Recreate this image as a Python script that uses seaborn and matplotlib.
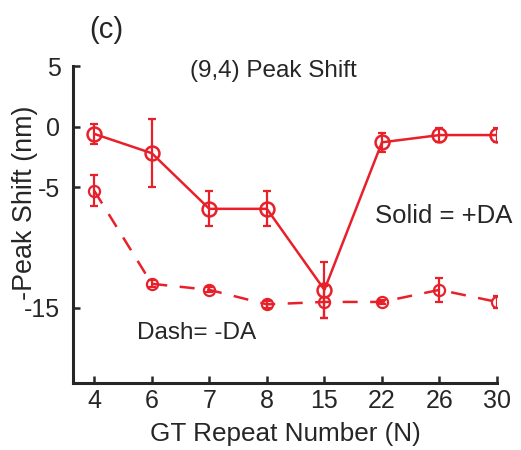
import numpy as np
import pandas as pd
import matplotlib
matplotlib.use("Agg")
import matplotlib.pyplot as plt
import seaborn as sns

categories = ["4", "6", "7", "8", "15", "22", "26", "30"]
plus_da = [-0.6, -2.2, -6.8, -6.8, -13.5, -1.3, -0.7, -0.7]
plus_da_err = [0.8, 2.8, 1.45, 1.45, 2.3, 0.8, 0.6, 0.6]
minus_da = [-5.3, -13.0, -13.5, -14.7, -14.5, -14.5, -13.5, -14.5]
minus_da_err = [1.3, 0.3, 0.2, 0.3, 1.3, 0.2, 1.0, 0.5]

sns.set_style("ticks")
plt.rcParams['font.family'] = ['Liberation Sans', 'DejaVu Sans']

fig = plt.figure(figsize=(5.21, 4.5), dpi=100)
ax = fig.add_axes([0.140, 0.149, 0.814, 0.704])

pos = np.arange(len(categories))
df = pd.DataFrame({"pos": np.concatenate([pos, pos]),
                   "val": plus_da + minus_da,
                   "cond": ["+DA"] * len(pos) + ["-DA"] * len(pos)})

red = "#e8202a"
sns.lineplot(data=df[df.cond == "+DA"], x="pos", y="val", ax=ax, color=red,
             linewidth=1.8, marker="o", markersize=10, markerfacecolor="none",
             markeredgecolor=red, markeredgewidth=1.8)
sns.lineplot(data=df[df.cond == "-DA"], x="pos", y="val", ax=ax, color=red,
             linewidth=1.8, linestyle=(0, (6, 5)), marker="o", markersize=8,
             markerfacecolor="none", markeredgecolor=red, markeredgewidth=1.6)
ax.errorbar(pos, plus_da, yerr=plus_da_err, fmt="none", ecolor=red,
            elinewidth=1.6, capsize=3, capthick=1.6)
ax.errorbar(pos, minus_da, yerr=minus_da_err, fmt="none", ecolor=red,
            elinewidth=1.6, capsize=3, capthick=1.6)

ax.set_xlim(-0.37, 7.0)
ax.set_ylim(-21.2, 5)
ax.set_xticks(pos)
ax.set_xticklabels(categories)
ax.set_yticks([5, 0, -5, -15])
ax.set_yticklabels(["5", "0", "-5", "-15"])
ax.tick_params(direction="in", length=5, width=1.8, labelsize=18)
ax.tick_params(axis="x", pad=4)
ax.tick_params(axis="y", pad=9)
for s in ["top", "right"]:
    ax.spines[s].set_visible(False)
for s in ["left", "bottom"]:
    ax.spines[s].set_linewidth(2.2)
ax.set_xlabel("GT Repeat Number (N)", fontsize=18.8, labelpad=7)
ax.set_ylabel("-Peak Shift (nm)", fontsize=19.4)
ax.yaxis.set_label_coords(-0.082, 0.568)

ax.text(0.472, 0.985, "(9,4) Peak Shift", transform=ax.transAxes, ha="center",
        va="center", fontsize=17.5)
fig.text(106 / 521, 1 - 30 / 450, "(c)", ha="center", va="center", fontsize=21)
ax.text(1.035, 0.527, "Solid = +DA", transform=ax.transAxes, ha="right",
        va="center", fontsize=18.5)
ax.text(0.15, 0.158, "Dash= -DA", transform=ax.transAxes, ha="left",
        va="center", fontsize=17.5)

fig.savefig("out.png", dpi=100, facecolor="white")
